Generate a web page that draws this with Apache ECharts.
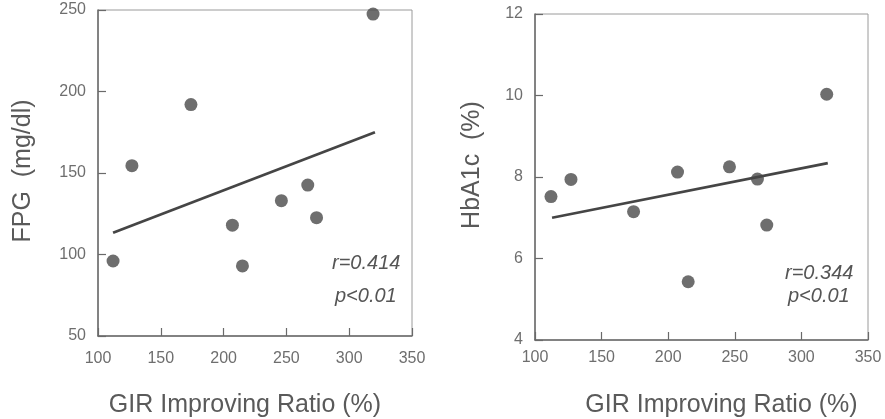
<!DOCTYPE html>
<html>
<head>
<meta charset="utf-8">
<script src="https://cdn.jsdelivr.net/npm/echarts@6/dist/echarts.min.js"></script>
<style>
html,body{margin:0;padding:0;background:#fff;}
#c{width:885px;height:419px;}
</style>
</head>
<body>
<div id="c"></div>
<script>
// Data
var gir = [112, 127, 174, 207, 215, 246, 267, 274, 319];
var fpg = [96, 154.5, 192, 118, 93, 133, 142.6, 122.6, 247.5];
var hba1c = [7.52, 7.94, 7.15, 8.12, 5.43, 8.25, 7.95, 6.82, 10.03];
var fpgFitX = [112, 320.5];
var fpgFitY = [113.3, 175];
var hbaFitX = [112.8, 319.8];
var hbaFitY = [7.0, 8.34];
var xTicks = [100, 150, 200, 250, 300, 350];
var fpgTicks = [50, 100, 150, 200, 250];
var hbaTicks = [4, 6, 8, 10, 12];
var stats1 = ['r=0.414', 'p<0.01'];
var stats2 = ['r=0.344', 'p<0.01'];

function pairs(xs, ys) { return xs.map(function (x, i) { return [x, ys[i]]; }); }

var FONT = 'Liberation Sans';
var axisCol = '#6a6a6a';
var labelCol = '#6e6e6e';
var nameCol = '#5a5a5a';
var dotCol = '#4a4a4a';

function xAxis(idx, margin, gap, pad) {
  return {
    type: 'value', gridIndex: idx, min: 100, max: 350, interval: 50,
    name: 'GIR Improving Ratio (%)', nameLocation: 'middle', nameGap: gap,
    nameTextStyle: { fontFamily: FONT, fontSize: 25, color: nameCol, padding: pad },
    axisLine: { lineStyle: { color: axisCol, width: 1.5 } },
    axisTick: { inside: true, length: 8, lineStyle: { color: axisCol, width: 1.2 } },
    axisLabel: { margin: margin, fontFamily: FONT, fontSize: 16, color: labelCol },
    splitLine: { show: false }
  };
}
function yAxis(idx, min, max, interval, name, gap, pad) {
  return {
    type: 'value', gridIndex: idx, min: min, max: max, interval: interval,
    name: name, nameLocation: 'middle', nameGap: gap,
    nameTextStyle: { fontFamily: FONT, fontSize: 25, color: nameCol, padding: pad },
    axisLine: { show: true, lineStyle: { color: axisCol, width: 1.5 } },
    axisTick: { show: true, inside: true, length: 8, lineStyle: { color: axisCol, width: 1.2 } },
    axisLabel: { margin: 12, fontFamily: FONT, fontSize: 16, color: labelCol },
    splitLine: { show: false }
  };
}

var chart = echarts.init(document.getElementById('c'), null, { renderer: 'canvas' });
chart.setOption({
  backgroundColor: '#fff',
  animation: false,
  grid: [
    { left: 98, top: 10, width: 314, height: 326, outerBoundsMode: 'none', containLabel: false, show: true, borderColor: '#9a9a9a', borderWidth: 1, backgroundColor: 'transparent' },
    { left: 535, top: 14, width: 333, height: 326, outerBoundsMode: 'none', containLabel: false, show: true, borderColor: '#9a9a9a', borderWidth: 1, backgroundColor: 'transparent' }
  ],
  xAxis: [xAxis(0, 15, 57, [0, 20, 0, 0]), xAxis(1, 10, 53, [0, 0, 0, 40])],
  yAxis: [
    yAxis(0, 50, 250, 50, 'FPG  (mg/dl)', 62, [0, 0, 0, 4]),
    yAxis(1, 4, 12, 2, 'HbA1c  (%)', 50, [0, 0, 0, 24])
  ],
  series: [
    { type: 'scatter', xAxisIndex: 0, yAxisIndex: 0, data: pairs(gir, fpg), symbolSize: 13, itemStyle: { color: dotCol } },
    { type: 'line', xAxisIndex: 0, yAxisIndex: 0, data: pairs(fpgFitX, fpgFitY), symbol: 'none', lineStyle: { color: '#454545', width: 2.7 } },
    { type: 'scatter', xAxisIndex: 1, yAxisIndex: 1, data: pairs(gir, hba1c), symbolSize: 13, itemStyle: { color: dotCol } },
    { type: 'line', xAxisIndex: 1, yAxisIndex: 1, data: pairs(hbaFitX, hbaFitY), symbol: 'none', lineStyle: { color: '#454545', width: 2.7 } }
  ],
  graphic: [
    { type: 'text', left: 332, top: 253, style: { text: stats1[0], font: 'italic 20px "Liberation Sans"', fill: '#555' } },
    { type: 'text', left: 335, top: 286, style: { text: stats1[1], font: 'italic 20px "Liberation Sans"', fill: '#555' } },
    { type: 'text', left: 785, top: 263, style: { text: stats2[0], font: 'italic 20px "Liberation Sans"', fill: '#555' } },
    { type: 'text', left: 788, top: 286, style: { text: stats2[1], font: 'italic 20px "Liberation Sans"', fill: '#555' } }
  ]
});
</script>
</body>
</html>
